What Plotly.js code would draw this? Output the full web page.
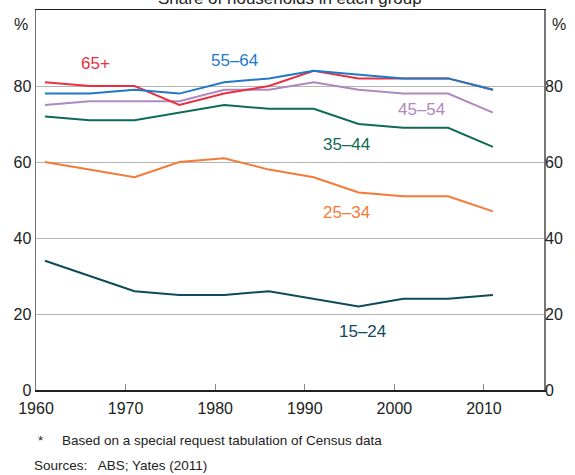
<!DOCTYPE html>
<html>
<head>
<meta charset="utf-8">
<script src="https://cdn.plot.ly/plotly-3.0.1.min.js"></script>
<style>html,body{margin:0;padding:0;background:#fff;}#chart{width:575px;height:475px;}</style>
</head>
<body>
<div id="chart"></div>
<script>
const years = [1961, 1966, 1971, 1976, 1981, 1986, 1991, 1996, 2001, 2006, 2011];
const age65plus = [81, 80, 80, 75, 78, 80, 84, 82, 82, 82, 79];
const age55_64 = [78, 78, 79, 78, 81, 82, 84, 83, 82, 82, 79];
const age45_54 = [75, 76, 76, 76, 79, 79, 81, 79, 78, 78, 73];
const age35_44 = [72, 71, 71, 73, 75, 74, 74, 70, 69, 69, 64];
const age25_34 = [60, 58, 56, 60, 61, 58, 56, 52, 51, 51, 47];
const age15_24 = [34, 30, 26, 25, 25, 26, 24, 22, 24, 24, 25];

const seriesNames = ['65+', '55–64', '45–54', '35–44', '25–34', '15–24'];
const seriesData = [age65plus, age55_64, age45_54, age35_44, age25_34, age15_24];
const colors = ['#E8303F', '#1F78C8', '#B088C0', '#0E6B55', '#F47A38', '#0D4A5C'];
const labelX = [1966.6, 1982.2, 2003, 1994.7, 1994.6, 1996.4];
const labelY = [85.8, 86.6, 73.7, 64.7, 46.6, 15.3];

const order = [5, 4, 3, 2, 0, 1];
const traces = order.map(i => ({
  x: years, y: seriesData[i], type: 'scatter', mode: 'lines', name: seriesNames[i],
  line: {color: colors[i], width: 2}, hoverinfo: 'skip'
}));
traces.push({x: [], y: [], yaxis: 'y2', type: 'scatter', mode: 'lines', showlegend: false});

const font = 'Liberation Sans, Arial, sans-serif';
const annotations = seriesNames.map((n, i) => ({
  x: labelX[i], y: labelY[i], xref: 'x', yref: 'y', text: n, showarrow: false,
  font: {family: font, size: 17, color: colors[i]}, xanchor: 'center', yanchor: 'middle'
}));
annotations.push(
  {x: 0, y: 1, xref: 'paper', yref: 'paper', text: '%', showarrow: false, xanchor: 'right', yanchor: 'top', xshift: -6, yshift: -4, font: {family: font, size: 16, color: '#222'}},
  {x: 1, y: 1, xref: 'paper', yref: 'paper', text: '%', showarrow: false, xanchor: 'left', yanchor: 'top', xshift: 6, yshift: -4, font: {family: font, size: 16, color: '#222'}},
  {x: 0.5, y: 1, xref: 'paper', yref: 'paper', text: 'Share of households in each group', showarrow: false, xanchor: 'center', yanchor: 'middle', yshift: 12, font: {family: font, size: 17, color: '#222'}},
  {x: 0, y: 0, xref: 'paper', yref: 'paper', text: '*', showarrow: false, xanchor: 'left', yanchor: 'middle', xshift: 0, yshift: -50, font: {family: font, size: 13.5, color: '#222'}},
  {x: 0, y: 0, xref: 'paper', yref: 'paper', text: 'Based on a special request tabulation of Census data', showarrow: false, xanchor: 'left', yanchor: 'middle', xshift: 24, yshift: -50, font: {family: font, size: 13.5, color: '#222'}},
  {x: 0, y: 0, xref: 'paper', yref: 'paper', text: 'Sources:&nbsp;&nbsp; ABS; Yates (2011)', showarrow: false, xanchor: 'left', yanchor: 'middle', xshift: -4, yshift: -75, font: {family: font, size: 13.5, color: '#222'}}
);

const layout = {
  width: 575, height: 475,
  margin: {l: 36, r: 31, t: 10, b: 85},
  paper_bgcolor: '#fff', plot_bgcolor: '#fff',
  showlegend: false,
  font: {family: font, size: 16, color: '#222'},
  xaxis: {
    range: [1960, 2016.7], tickvals: [1960, 1970, 1980, 1990, 2000, 2010],
    ticks: 'inside', ticklen: 6, tickcolor: '#888', showgrid: false, zeroline: false,
    showline: true, linecolor: '#222', linewidth: 1.5, mirror: true,
    ticklabelstandoff: 3,
    tickfont: {family: font, size: 16, color: '#222'}
  },
  yaxis: {
    range: [0, 100], tickvals: [0, 20, 40, 60, 80], ticks: '',
    showgrid: true, gridcolor: '#b5b5b5', gridwidth: 1, zeroline: false,
    showline: true, linecolor: '#777', linewidth: 1.5, mirror: true,
    tickfont: {family: font, size: 16, color: '#222'}
  },
  yaxis2: {
    range: [0, 100], tickvals: [0, 20, 40, 60, 80], overlaying: 'y', side: 'right',
    showgrid: false, zeroline: false, showline: false, ticks: '',
    tickfont: {family: font, size: 16, color: '#222'}
  },
  annotations: annotations
};

Plotly.newPlot('chart', traces, layout, {displayModeBar: false, staticPlot: true});
</script>
</body>
</html>
